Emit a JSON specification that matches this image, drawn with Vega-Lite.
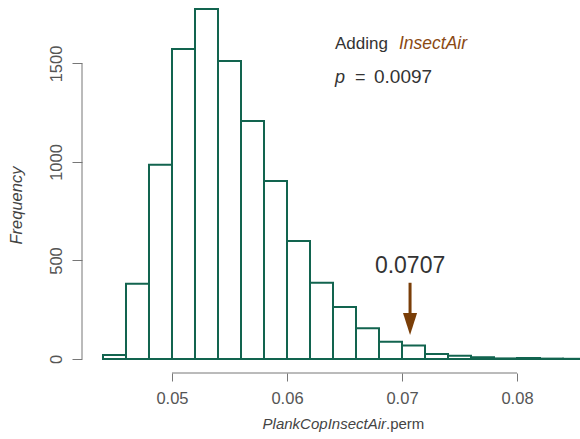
{
  "$schema": "https://vega.github.io/schema/vega-lite/v6.json",
  "width": 498,
  "height": 373,
  "autosize": {"type": "none"},
  "padding": {"left": 82, "top": 0, "right": 0, "bottom": 66},
  "config": {"view": {"stroke": null}, "font": "Liberation Sans"},
  "datasets": {
    "bins": [
      {"start": 0.044, "end": 0.046, "count": 20},
      {"start": 0.046, "end": 0.048, "count": 382},
      {"start": 0.048, "end": 0.050, "count": 986},
      {"start": 0.050, "end": 0.052, "count": 1574},
      {"start": 0.052, "end": 0.054, "count": 1777},
      {"start": 0.054, "end": 0.056, "count": 1513},
      {"start": 0.056, "end": 0.058, "count": 1208},
      {"start": 0.058, "end": 0.060, "count": 904},
      {"start": 0.060, "end": 0.062, "count": 599},
      {"start": 0.062, "end": 0.064, "count": 387},
      {"start": 0.064, "end": 0.066, "count": 264},
      {"start": 0.066, "end": 0.068, "count": 156},
      {"start": 0.068, "end": 0.070, "count": 88},
      {"start": 0.070, "end": 0.072, "count": 68},
      {"start": 0.072, "end": 0.074, "count": 25},
      {"start": 0.074, "end": 0.076, "count": 17},
      {"start": 0.076, "end": 0.078, "count": 9},
      {"start": 0.078, "end": 0.080, "count": 3},
      {"start": 0.080, "end": 0.082, "count": 5},
      {"start": 0.082, "end": 0.084, "count": 2},
      {"start": 0.084, "end": 0.086, "count": 1}
    ],
    "xline": [{"a": 0.05, "b": 0.08, "y": -71.07}],
    "yline": [{"x": 0.042174, "a": 0, "b": 1500}],
    "adding": [{"x": 0.064174, "y": 1576, "label": "Adding"}],
    "insect": [{"x": 0.06974, "y": 1576, "label": "InsectAir"}],
    "p": [{"x": 0.064174, "y": 1401, "label": "p"}],
    "eq": [{"x": 0.065913, "y": 1401, "label": "="}],
    "pval": [{"x": 0.067565, "y": 1401, "label": "0.0097"}],
    "obs": [{"x": 0.0707, "y": 436.5, "label": "0.0707"}],
    "shaft": [{"x": 0.0707, "a": 387, "b": 233}],
    "head": [{"x": 0.0707, "y": 177.7}],
    "xt1": [{"x": 0.068609, "y": -355, "label": "PlankCopInsectAir"}],
    "xt2": [{"x": 0.068609, "y": -355, "label": ".perm"}]
  },
  "layer": [
    {
      "data": {"name": "bins"},
      "mark": {"type": "bar", "fill": "white", "stroke": "#12644f", "strokeWidth": 2, "clip": true},
      "encoding": {
        "x": {"field": "start", "type": "quantitative",
              "scale": {"domain": [0.042174, 0.085478], "nice": false, "zero": false},
              "axis": {"values": [0.05, 0.06, 0.07, 0.08], "domain": false, "grid": false, "tickSize": 8, "tickColor": "#777", "labelColor": "#555", "labelFontSize": 16.5, "labelPadding": 9, "title": null, "format": ".2f"}},
        "x2": {"field": "end"},
        "y": {"field": "count", "type": "quantitative",
              "scale": {"domain": [-71.07, 1822.3], "nice": false, "zero": false},
              "axis": {"values": [0, 500, 1000, 1500], "format": "d", "domain": false, "grid": false, "tickSize": 10, "tickColor": "#777", "labelColor": "#555", "labelFontSize": 16.5, "labelAngle": -90, "labelPadding": 8,
                       "title": "Frequency", "titleFontStyle": "italic", "titleFontWeight": "normal", "titleFontSize": 16.5, "titleColor": "#444", "titleX": -66, "titleY": 205, "titleBaseline": "middle", "titleAlign": "center", "titleAngle": -90}},
        "y2": {"datum": 0}
      }
    },
    {
      "data": {"name": "xline"},
      "mark": {"type": "rule", "stroke": "#777", "strokeWidth": 1},
      "encoding": {
        "x": {"field": "a", "type": "quantitative", "scale": {"domain": [0.042174, 0.085478], "nice": false, "zero": false}},
        "x2": {"field": "b"},
        "y": {"field": "y", "type": "quantitative", "scale": {"domain": [-71.07, 1822.3], "nice": false, "zero": false}}
      }
    },
    {
      "data": {"name": "yline"},
      "mark": {"type": "rule", "stroke": "#777", "strokeWidth": 1},
      "encoding": {
        "x": {"field": "x", "type": "quantitative"},
        "y": {"field": "a", "type": "quantitative"},
        "y2": {"field": "b"}
      }
    },
    {
      "data": {"name": "adding"},
      "mark": {"type": "text", "align": "left", "baseline": "alphabetic", "fontSize": 17, "color": "#333"},
      "encoding": {"x": {"field": "x", "type": "quantitative"}, "y": {"field": "y", "type": "quantitative"}, "text": {"field": "label"}}
    },
    {
      "data": {"name": "insect"},
      "mark": {"type": "text", "align": "left", "baseline": "alphabetic", "fontSize": 17.5, "fontStyle": "italic", "color": "#8b4a14"},
      "encoding": {"x": {"field": "x", "type": "quantitative"}, "y": {"field": "y", "type": "quantitative"}, "text": {"field": "label"}}
    },
    {
      "data": {"name": "p"},
      "mark": {"type": "text", "align": "left", "baseline": "alphabetic", "fontSize": 18, "fontStyle": "italic", "color": "#333"},
      "encoding": {"x": {"field": "x", "type": "quantitative"}, "y": {"field": "y", "type": "quantitative"}, "text": {"field": "label"}}
    },
    {
      "data": {"name": "eq"},
      "mark": {"type": "text", "align": "left", "baseline": "alphabetic", "fontSize": 18, "color": "#333"},
      "encoding": {"x": {"field": "x", "type": "quantitative"}, "y": {"field": "y", "type": "quantitative"}, "text": {"field": "label"}}
    },
    {
      "data": {"name": "pval"},
      "mark": {"type": "text", "align": "left", "baseline": "alphabetic", "fontSize": 19, "color": "#333"},
      "encoding": {"x": {"field": "x", "type": "quantitative"}, "y": {"field": "y", "type": "quantitative"}, "text": {"field": "label"}}
    },
    {
      "data": {"name": "obs"},
      "mark": {"type": "text", "align": "center", "baseline": "alphabetic", "fontSize": 23, "color": "#333"},
      "encoding": {"x": {"field": "x", "type": "quantitative"}, "y": {"field": "y", "type": "quantitative"}, "text": {"field": "label"}}
    },
    {
      "data": {"name": "shaft"},
      "mark": {"type": "rule", "stroke": "#7a3e08", "strokeWidth": 3},
      "encoding": {"x": {"field": "x", "type": "quantitative"}, "y": {"field": "a", "type": "quantitative"}, "y2": {"field": "b"}}
    },
    {
      "data": {"name": "head"},
      "mark": {"type": "point", "shape": "M -0.64 -1 L 0.64 -1 L 0 1 Z", "size": 484, "filled": true, "fill": "#7a3e08", "opacity": 1, "strokeWidth": 0},
      "encoding": {"x": {"field": "x", "type": "quantitative"}, "y": {"field": "y", "type": "quantitative"}}
    },
    {
      "data": {"name": "xt1"},
      "mark": {"type": "text", "align": "right", "baseline": "alphabetic", "fontSize": 15, "fontStyle": "italic", "color": "#444"},
      "encoding": {"x": {"field": "x", "type": "quantitative"}, "y": {"field": "y", "type": "quantitative"}, "text": {"field": "label"}}
    },
    {
      "data": {"name": "xt2"},
      "mark": {"type": "text", "align": "left", "baseline": "alphabetic", "fontSize": 15, "color": "#444"},
      "encoding": {"x": {"field": "x", "type": "quantitative"}, "y": {"field": "y", "type": "quantitative"}, "text": {"field": "label"}}
    }
  ]
}
